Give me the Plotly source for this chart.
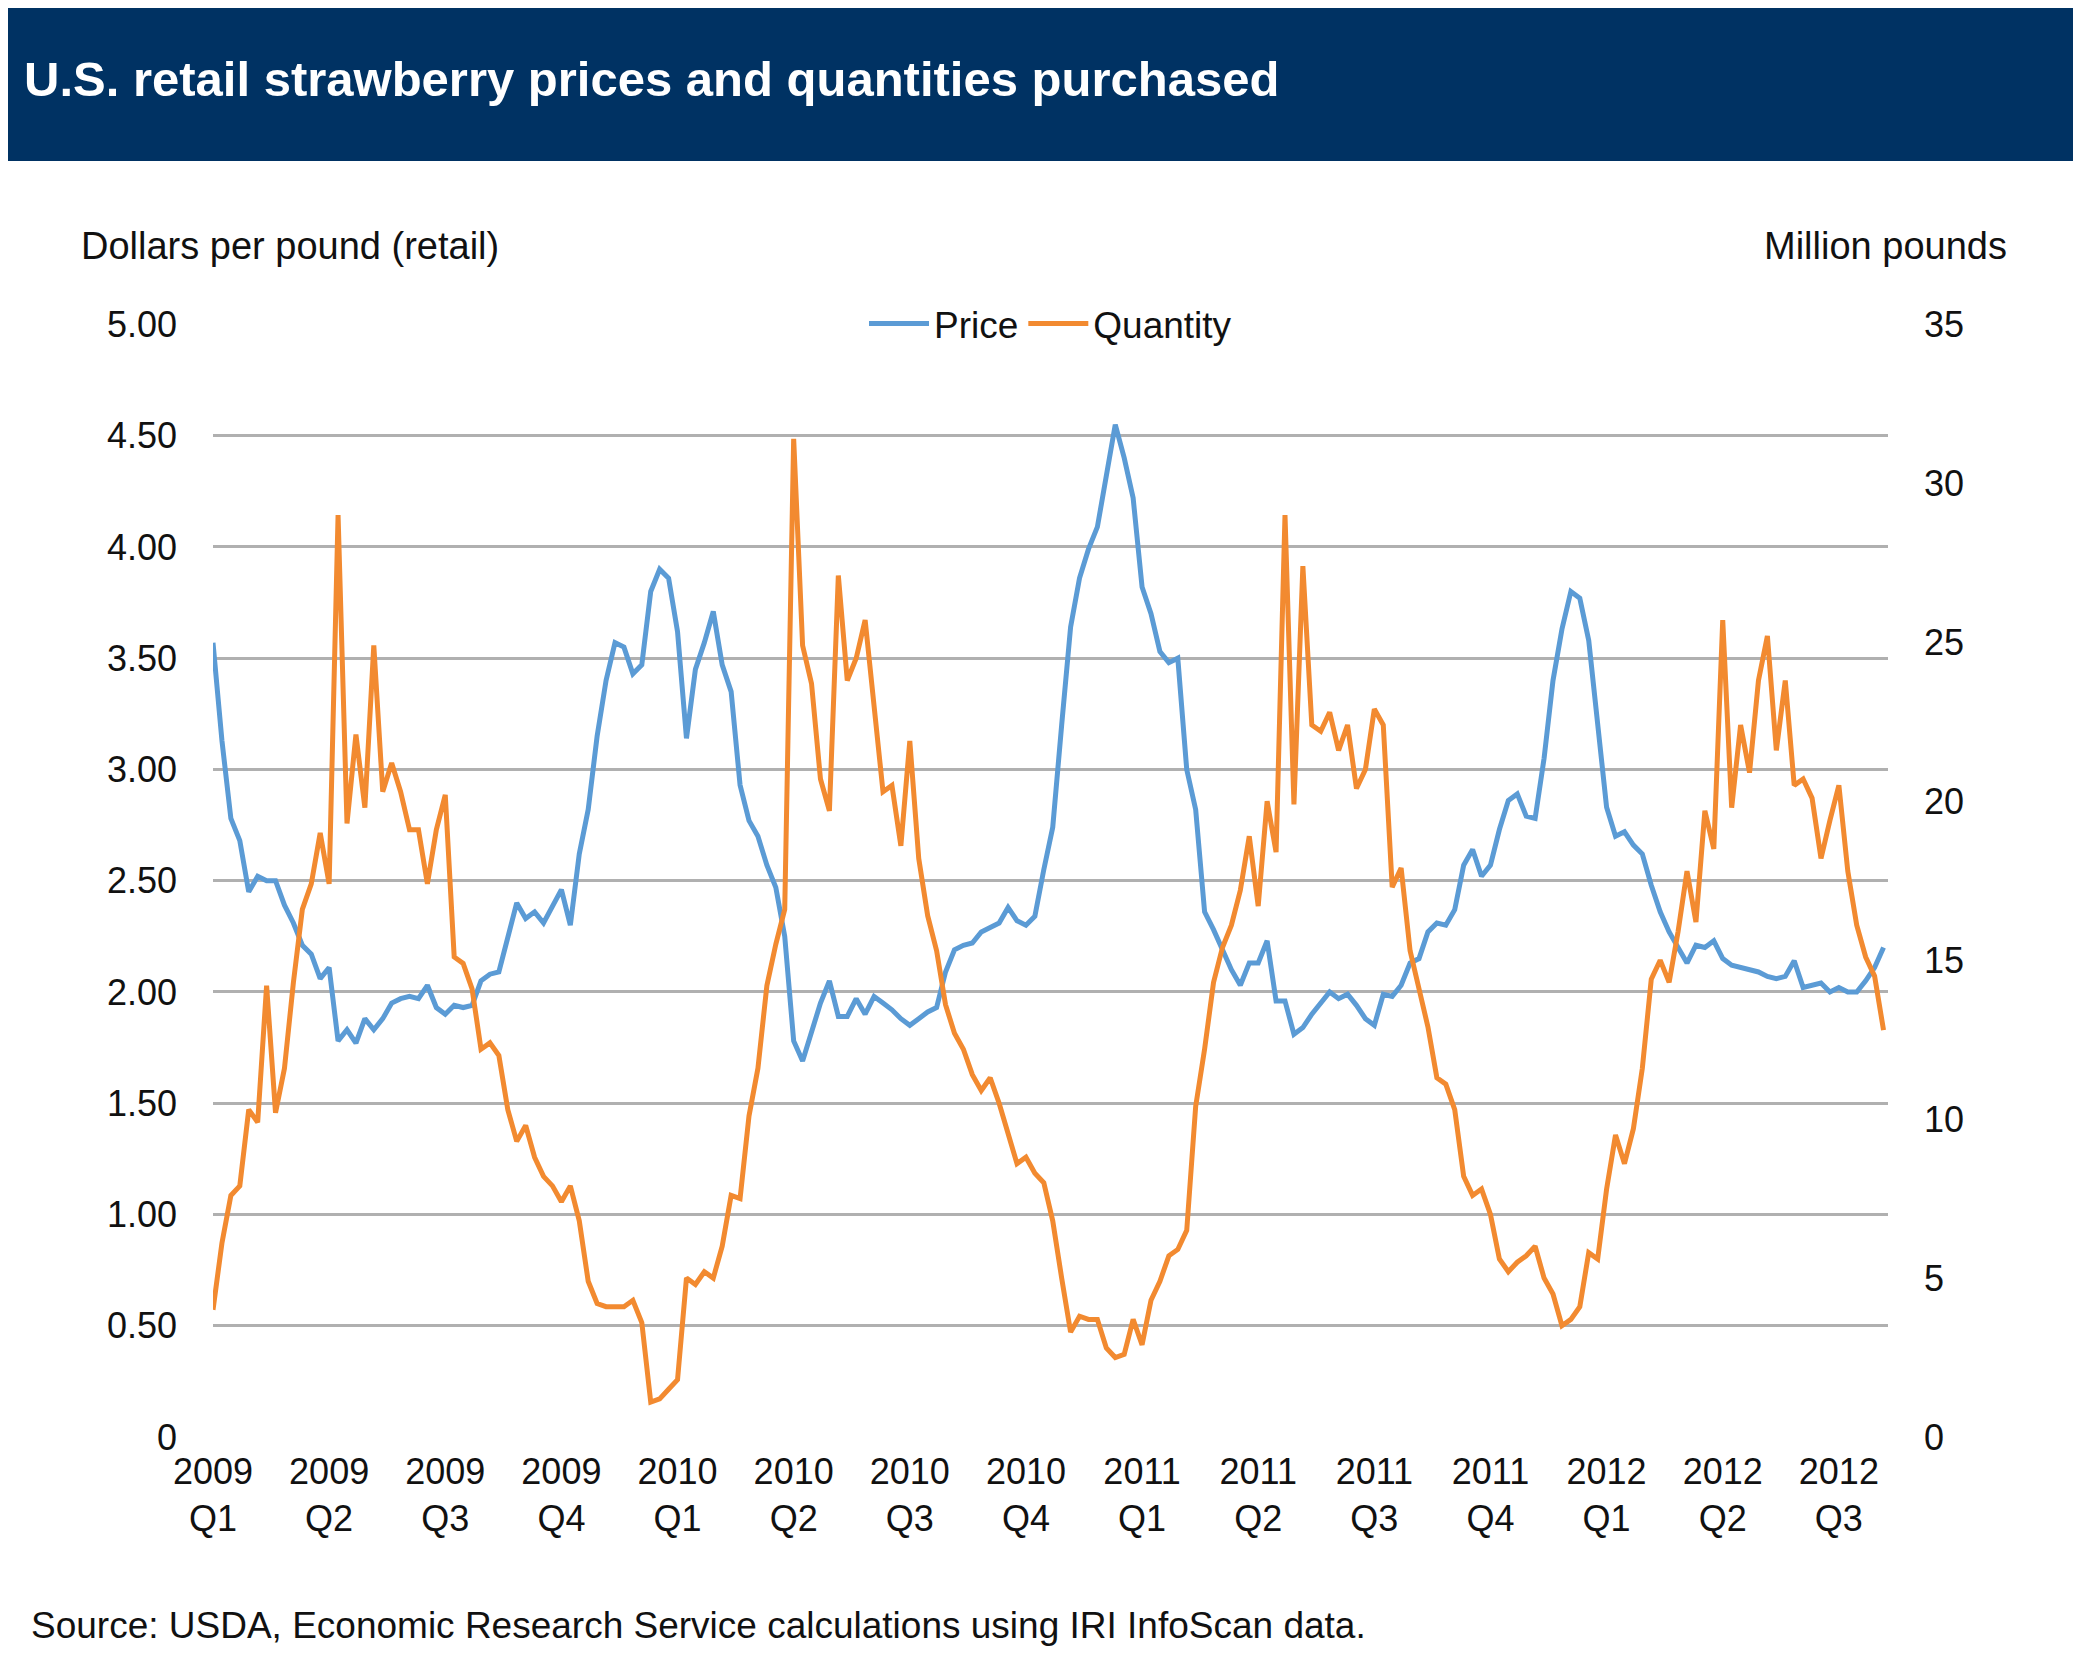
import plotly.graph_objects as go

price = [3.57,3.13,2.78,2.68,2.45,2.52,2.50,2.50,2.39,2.31,2.21,2.17,2.06,2.11,1.78,1.83,1.77,1.88,1.83,1.88,1.95,1.97,1.98,1.97,2.03,1.93,1.90,1.94,1.93,1.94,2.05,2.08,2.09,2.25,2.40,2.33,2.36,2.31,2.38,2.46,2.30,2.62,2.82,3.15,3.40,3.57,3.55,3.43,3.47,3.80,3.90,3.86,3.62,3.14,3.45,3.57,3.71,3.47,3.35,2.93,2.77,2.70,2.57,2.47,2.25,1.78,1.69,1.82,1.95,2.05,1.89,1.89,1.97,1.90,1.98,1.95,1.92,1.88,1.85,1.88,1.91,1.93,2.09,2.19,2.21,2.22,2.27,2.29,2.31,2.38,2.32,2.30,2.34,2.55,2.74,3.20,3.64,3.86,3.99,4.09,4.33,4.55,4.40,4.22,3.82,3.70,3.53,3.48,3.50,3.00,2.82,2.36,2.28,2.19,2.10,2.03,2.13,2.13,2.23,1.96,1.96,1.81,1.84,1.90,1.95,2.00,1.97,1.99,1.94,1.88,1.85,1.99,1.98,2.03,2.13,2.15,2.27,2.31,2.30,2.37,2.57,2.64,2.52,2.57,2.73,2.86,2.89,2.79,2.78,3.05,3.40,3.63,3.80,3.77,3.58,3.18,2.83,2.70,2.72,2.66,2.62,2.48,2.36,2.27,2.20,2.13,2.21,2.20,2.23,2.15,2.12,2.11,2.10,2.09,2.07,2.06,2.07,2.14,2.02,2.03,2.04,2.00,2.02,2.00,2.00,2.05,2.11,2.20]

quantity = [4.0,6.1,7.6,7.9,10.3,9.9,14.2,10.2,11.6,14.3,16.6,17.4,19.0,17.4,29.0,19.3,22.1,19.8,24.9,20.3,21.2,20.3,19.1,19.1,17.4,19.1,20.2,15.1,14.9,14.1,12.2,12.4,12.0,10.3,9.3,9.8,8.8,8.2,7.9,7.4,7.9,6.8,4.9,4.2,4.1,4.1,4.1,4.3,3.6,1.1,1.2,1.5,1.8,5.0,4.8,5.2,5.0,6.0,7.6,7.5,10.1,11.6,14.2,15.5,16.6,31.4,24.9,23.7,20.7,19.7,27.1,23.8,24.5,25.7,22.8,20.3,20.5,18.6,21.9,18.2,16.4,15.3,13.6,12.7,12.2,11.4,10.9,11.3,10.5,9.6,8.6,8.8,8.3,8.0,6.8,5.0,3.3,3.8,3.7,3.7,2.8,2.5,2.6,3.7,2.9,4.3,4.9,5.7,5.9,6.5,10.4,12.2,14.3,15.4,16.1,17.2,18.9,16.7,20.0,18.4,29.0,19.9,27.4,22.4,22.2,22.8,21.6,22.4,20.4,21.0,22.9,22.4,17.3,17.9,15.3,14.1,12.9,11.3,11.1,10.3,8.2,7.6,7.8,7.0,5.6,5.2,5.5,5.7,6.0,5.0,4.5,3.5,3.7,4.1,5.8,5.6,7.8,9.5,8.6,9.7,11.6,14.4,15.0,14.3,15.9,17.8,16.2,19.7,18.5,25.7,19.8,22.4,20.9,23.8,25.2,21.6,23.8,20.5,20.7,20.1,18.2,19.4,20.5,17.8,16.1,15.1,14.5,12.8]

tick_labels = ["2009<br>Q1","2009<br>Q2","2009<br>Q3","2009<br>Q4","2010<br>Q1","2010<br>Q2","2010<br>Q3","2010<br>Q4",
               "2011<br>Q1","2011<br>Q2","2011<br>Q3","2011<br>Q4","2012<br>Q1","2012<br>Q2","2012<br>Q3"]
weeks = list(range(len(price)))
tick_vals = [i * 13 for i in range(len(tick_labels))]

FONT = "Liberation Sans, Arial, Helvetica, sans-serif"
fig = go.Figure()
fig.add_trace(go.Scatter(x=weeks, y=price, name="Price", mode="lines",
                         line=dict(color="#5b9bd5", width=5)))
fig.add_trace(go.Scatter(x=weeks, y=quantity, name="Quantity", mode="lines", yaxis="y2",
                         line=dict(color="#f28a30", width=5)))

fig.update_layout(
    width=2081, height=1665, paper_bgcolor="white", plot_bgcolor="white",
    margin=dict(l=205, r=201, t=316, b=236),
    font=dict(family=FONT, size=36, color="#111"),
    showlegend=True,
    legend=dict(orientation="h", x=0.5, xanchor="center", y=1.0, yanchor="middle",
                bgcolor="white", font=dict(size=37), itemwidth=60),
    xaxis=dict(range=[0, 187.5], tickvals=tick_vals, ticktext=tick_labels,
               showgrid=False, zeroline=False, showline=False, ticks="", ticklabelstandoff=10),
    yaxis=dict(range=[0, 5.002], tickvals=[0,0.5,1,1.5,2,2.5,3,3.5,4,4.5,5],
               ticktext=["0","0.50","1.00","1.50","2.00","2.50","3.00","3.50","4.00","4.50","5.00"],
               gridcolor="#b0b0b0", gridwidth=3, zeroline=False, ticks="", ticklabelstandoff=35),
    yaxis2=dict(range=[0, 35.014], overlaying="y", side="right", tickvals=[0,5,10,15,20,25,30,35],
                showgrid=False, zeroline=False, ticks="", ticklabelstandoff=35),
    shapes=[dict(type="rect", xref="paper", yref="paper", x0=-0.5, x1=1.5,
                 y0=1 + 163/1113, y1=1.5, fillcolor="#003263", line_width=0, layer="below")],
    annotations=[
        dict(text="<b>U.S. retail strawberry prices and quantities purchased</b>", xref="paper", yref="paper",
             x=-0.114, y=1 + 245/1113, xanchor="left", yanchor="middle", showarrow=False,
             font=dict(color="white", size=49)),
        dict(text="Dollars per pound (retail)", xref="paper", yref="paper", x=-0.08, y=1 + 78/1113,
             xanchor="left", yanchor="middle", showarrow=False, font=dict(size=38)),
        dict(text="Million pounds", xref="paper", yref="paper", x=1.072, y=1 + 78/1113,
             xanchor="right", yanchor="middle", showarrow=False, font=dict(size=38)),
        dict(text="Source: USDA, Economic Research Service calculations using IRI InfoScan data.",
             xref="paper", yref="paper", x=-0.11, y=-(1617 - 1429) / 1113, xanchor="left",
             yanchor="middle", showarrow=False, font=dict(size=37)),
    ],
)
fig.write_html("out.html")
